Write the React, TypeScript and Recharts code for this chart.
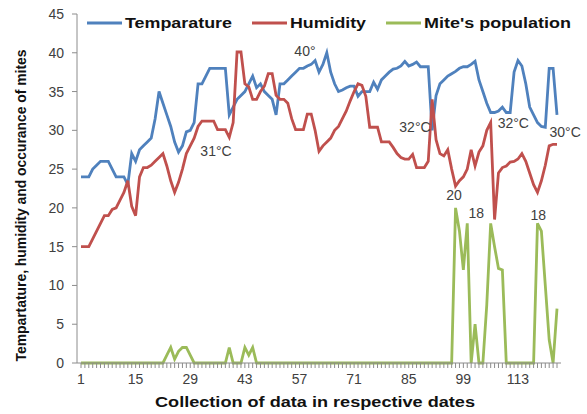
import React from 'react';
import { LineChart, Line, XAxis, YAxis, Legend, Label, ReferenceDot } from 'recharts';

const days = Array.from({ length: 123 }, (_, i) => i + 1);
const tickLabels = [1, 15, 29, 43, 57, 71, 85, 99, 113];
const yTicks = [0, 5, 10, 15, 20, 25, 30, 35, 40, 45];

const temperature = [
  24, 24, 24, 25, 25.5, 26, 26, 26, 25, 24,
  24, 24, 23, 27, 26, 27.5, 28, 28.5, 29, 31.5,
  35, 33.5, 32, 30.5, 28.5, 27.2, 28, 29.8, 30, 31,
  36, 36, 37, 38, 38, 38, 38, 38, 32, 33,
  34, 34.5, 35, 36, 37, 35.5, 36, 35, 34.5, 34,
  32, 36, 36, 36.5, 37, 37.5, 38, 38, 38.3, 38.5,
  39, 37.5, 38.5, 40, 37.5, 36, 35, 35.2, 35.5, 35.7,
  35.7, 34.4, 35, 35, 35, 36.2, 35.3, 36.5, 37, 37.5,
  37.9, 38, 38.3, 38.9, 38.3, 38.5, 38.8, 38.2, 38.2, 38.2,
  30, 34.5, 36, 36.5, 37, 37.3, 37.6, 38, 38.2, 38.2,
  38.5, 38.9, 36.5, 35, 33.5, 32.3, 32.3, 32.5, 33, 32.3,
  32.3, 37.5, 39, 38.3, 36, 33, 32, 31, 30.5, 30.4,
  38, 38, 32,
];

const humidity = [
  15, 15, 15, 16, 17, 18, 19, 19, 19.8, 20,
  21, 22, 23.5, 20.2, 19, 24, 25.2, 25.2, 25.5, 26,
  26.5, 27, 25.4, 23.5, 22, 23.3, 25, 27, 28, 29,
  30.5, 31.2, 31.2, 31.2, 31.2, 30.1, 30.1, 30.1, 29.1, 31,
  40.1, 40.1, 36, 35.6, 34, 34, 35, 35.7, 37.3, 37.3,
  34.5, 34, 34, 33.5, 31.5, 30.1, 30.1, 30.1, 32.1, 32.1,
  30, 27.3, 28, 28.5, 29, 30, 30.5, 31.5, 32.5, 33.8,
  35, 36, 35.8, 34.4, 30.4, 30.4, 30.4, 28.5, 28.5, 28.5,
  27.8, 27, 26.5, 26.3, 26.3, 26.9, 25.2, 25.2, 25.2, 26,
  34, 28.8, 27, 26.7, 27.5, 25, 22.8, 23.5, 24, 25,
  27.5, 25.4, 27.2, 28, 30, 31, 18.5, 24.5, 25.2, 25.4,
  25.9, 26, 26.3, 27, 26, 24.5, 23, 22, 23.5, 25.5,
  28, 28.2, 28.2,
];

const mites = [
  0, 0, 0, 0, 0, 0, 0, 0, 0, 0,
  0, 0, 0, 0, 0, 0, 0, 0, 0, 0,
  0, 0, 1, 2, 0.5, 1.5, 2, 2, 1, 0,
  0, 0, 0, 0, 0, 0, 0, 0, 2, 0,
  0, 0, 2, 1, 2, 0, 0, 0, 0, 0,
  0, 0, 0, 0, 0, 0, 0, 0, 0, 0,
  0, 0, 0, 0, 0, 0, 0, 0, 0, 0,
  0, 0, 0, 0, 0, 0, 0, 0, 0, 0,
  0, 0, 0, 0, 0, 0, 0, 0, 0, 0,
  0, 0, 0, 0, 0, 0, 20, 17, 12, 18,
  0, 5, 0, 0, 7.5, 18, 15, 12.2, 12, 0,
  0, 0, 0, 0, 0, 0, 0, 18, 17, 10,
  3, 0, 7,
];

// data labels written on the original chart
const noteDays = [35.6, 58.4, 86.6, 111.8, 125.1, 96.6, 102.3, 118.2];
const noteValues = [27.3, 40.2, 30.4, 31.0, 29.8, 21.6, 19.4, 19.1];
const noteTexts = ['31°C', '40°', '32°C', '32°C', '30°C', '20', '18', '18'];

const TEMP_COLOR = '#4f81bd';
const HUM_COLOR = '#c0504d';
const MITE_COLOR = '#9bbb59';
const AXIS_COLOR = '#8c8c8c';
const FONT = '"Liberation Sans", Arial, sans-serif';

const chartData = days.map((day, i) => ({
  day,
  temperature: temperature[i],
  humidity: humidity[i],
  mites: mites[i],
}));

const legendItems = [
  { label: 'Temparature', color: TEMP_COLOR, width: 107 },
  { label: 'Humidity', color: HUM_COLOR, width: 76 },
  { label: "Mite's population", color: MITE_COLOR, width: 147 },
];

const renderLegend = () => {
  let x = 2;
  const parts = legendItems.map((item) => {
    const lineX = x;
    const textX = x + 38;
    x = textX + item.width + 20;
    return (
      <g key={item.label}>
        <line x1={lineX} x2={lineX + 35} y1={11} y2={11} stroke={item.color} strokeWidth={3} />
        <text
          x={textX}
          y={16}
          fontSize={14}
          fontWeight="bold"
          fontFamily={FONT}
          fill="#111"
          textLength={item.width}
          lengthAdjust="spacingAndGlyphs"
        >
          {item.label}
        </text>
      </g>
    );
  });
  return (
    <svg width={490} height={22}>
      {parts}
    </svg>
  );
};

const XTick = (props: any) => {
  const { x, y, payload } = props;
  if (!tickLabels.includes(payload.value)) return <g />;
  return (
    <text x={x} y={y} dy={14} textAnchor="middle" fontSize={14} fontFamily={FONT} fill="#404040">
      {payload.value}
    </text>
  );
};

const XTitle = (props: any) => {
  const { viewBox } = props;
  const cx = viewBox.x + viewBox.width / 2 - 4;
  return (
    <text
      x={cx}
      y={viewBox.y + 44}
      textAnchor="middle"
      fontSize={14}
      fontWeight="bold"
      fontFamily={FONT}
      fill="#111"
      textLength={320}
      lengthAdjust="spacingAndGlyphs"
    >
      Collection of data in respective dates
    </text>
  );
};

const YTitle = (props: any) => {
  const { viewBox } = props;
  const cx = viewBox.x + 25;
  const cy = viewBox.y + viewBox.height / 2 + 17;
  return (
    <text
      x={cx}
      y={cy}
      transform={`rotate(-90, ${cx}, ${cy})`}
      textAnchor="middle"
      fontSize={14}
      fontWeight="bold"
      fontFamily={FONT}
      fill="#111"
      textLength={312}
      lengthAdjust="spacingAndGlyphs"
    >
      Tempartature, humidity and occurance of mites
    </text>
  );
};

const App: React.FC = () => {
  return (
    <div style={{ position: 'absolute', left: 0, top: 0, background: '#fff' }}>
      <LineChart
        width={587}
        height={414}
        data={chartData}
        margin={{ top: 14, right: 26, bottom: 6, left: 1 }}
      >
        <XAxis
          type="number"
          dataKey="day"
          domain={[1, 123]}
          ticks={days}
          interval={0}
          padding={{ left: 4, right: 4 }}
          tickSize={5}
          tick={XTick}
          tickLine={{ stroke: AXIS_COLOR }}
          axisLine={{ stroke: AXIS_COLOR }}
          height={45}
        >
          <Label content={XTitle} />
        </XAxis>
        <YAxis
          domain={[0, 45]}
          ticks={yTicks}
          interval={0}
          width={76}
          tickSize={5}
          tickMargin={8}
          tick={{ fontSize: 14, fontFamily: FONT, fill: '#404040' }}
          tickLine={{ stroke: AXIS_COLOR }}
          axisLine={{ stroke: AXIS_COLOR }}
        >
          <Label content={YTitle} />
        </YAxis>
        <Legend
          layout="horizontal"
          verticalAlign="middle"
          align="center"
          wrapperStyle={{ top: 12, left: 85, width: 490, height: 22 }}
          content={renderLegend}
        />
        <Line
          type="linear"
          dataKey="temperature"
          name="Temparature"
          stroke={TEMP_COLOR}
          strokeWidth={2.8}
          dot={false}
          isAnimationActive={false}
        />
        <Line
          type="linear"
          dataKey="humidity"
          name="Humidity"
          stroke={HUM_COLOR}
          strokeWidth={2.8}
          dot={false}
          isAnimationActive={false}
        />
        <Line
          type="linear"
          dataKey="mites"
          name="Mite's population"
          stroke={MITE_COLOR}
          strokeWidth={2.8}
          dot={false}
          isAnimationActive={false}
        />
        {noteTexts.map((text, i) => (
          <ReferenceDot
            key={i}
            x={noteDays[i]}
            y={noteValues[i]}
            r={0}
            fill="none"
            stroke="none"
            ifOverflow="visible"
            label={{ value: text, position: 'center', fontSize: 14, fontFamily: FONT, fill: '#404040' }}
          />
        ))}
      </LineChart>
    </div>
  );
};

export default App;
